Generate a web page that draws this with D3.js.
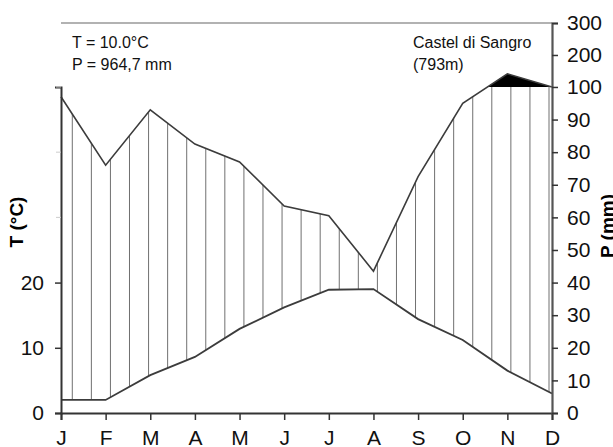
<!DOCTYPE html>
<html>
<head>
<meta charset="utf-8">
<script src="https://cdn.jsdelivr.net/npm/d3@7"></script>
<style>
  html, body { margin: 0; padding: 0; background: #fff; }
  svg { display: block; font-family: "Liberation Sans Narrow", "Arial Narrow", "Liberation Sans", Arial, sans-serif; }
</style>
</head>
<body>
<div id="chart"></div>
<script>
// Climate data - Castel di Sangro
const months = ['J', 'F', 'M', 'A', 'M', 'J', 'J', 'A', 'S', 'O', 'N', 'D'];
const temperature = [2.0, 2.0, 5.8, 8.6, 12.9, 16.2, 18.9, 19.0, 14.4, 11.2, 6.5, 3.0];
const precipitation = [97, 76, 93, 82.5, 77, 63.5, 60.5, 43.5, 72.5, 95, 141, 100];
const tempTicks = [0, 10, 20];
const tempMinorTicks = [30, 40, 50];
const precTicks = [0, 10, 20, 30, 40, 50, 60, 70, 80, 90, 100, 200, 300];
const station = ['Castel di Sangro', '(793m)'];
const summary = ['T = 10.0°C', 'P = 964,7 mm'];

const width = 613;
const height = 447;
const margin = { top: 23, right: 61, bottom: 34, left: 61 };
const innerW = width - margin.left - margin.right;
const innerH = height - margin.top - margin.bottom;

const svg = d3.select('#chart')
  .append('svg')
  .attr('width', width)
  .attr('height', height);

const g = svg.append('g')
  .attr('transform', `translate(${margin.left},${margin.top})`);

// Scales: months on index, T (°C) with 10°C = 20 mm, P compressed above 100 mm
const x = d3.scaleLinear().domain([0, months.length - 1]).range([0, innerW]);
const yP = d3.scaleLinear().domain([0, 100, 300]).range([innerH, innerH * 0.164, 0]);
const yT = d3.scaleLinear().domain([0, 50]).range([yP(0), yP(100)]);

const tLine = d3.line().x((d, i) => x(i)).y(d => yT(d));
const pLine = d3.line().x((d, i) => x(i)).y(d => yP(d));

const defs = svg.append('defs');

// Clip for the humid area: between T and P curves, capped at 100 mm
defs.append('clipPath').attr('id', 'humid')
  .append('path')
  .attr('d', d3.area()
    .x((d, i) => x(i))
    .y0((d, i) => yT(temperature[i]))
    .y1(d => yP(d))(precipitation));

defs.append('clipPath').attr('id', 'below100')
  .append('rect')
  .attr('x', 0).attr('y', yP(100))
  .attr('width', innerW).attr('height', innerH - yP(100));

defs.append('clipPath').attr('id', 'above100')
  .append('rect')
  .attr('x', 0).attr('y', 0)
  .attr('width', innerW).attr('height', yP(100));

// Vertical hatching (month units)
const hatchStep = 0.4272;
const hatchX = d3.range(0.253, months.length - 1, hatchStep);

g.append('g')
  .attr('clip-path', 'url(#below100)')
  .append('g')
  .attr('clip-path', 'url(#humid)')
  .selectAll('line')
  .data(hatchX)
  .enter()
  .append('line')
  .attr('x1', d => x(d))
  .attr('x2', d => x(d))
  .attr('y1', 0)
  .attr('y2', innerH)
  .attr('stroke', '#707070')
  .attr('stroke-width', 1);

// Perhumid area (> 100 mm) filled black
g.append('path')
  .attr('clip-path', 'url(#above100)')
  .attr('d', d3.area()
    .x((d, i) => x(i))
    .y0(yP(100))
    .y1(d => yP(d))(precipitation))
  .attr('fill', '#000');

// Curves
g.append('path')
  .attr('d', pLine(precipitation))
  .attr('fill', 'none')
  .attr('stroke', '#3c3c3c')
  .attr('stroke-width', 1.6);

g.append('path')
  .attr('d', tLine(temperature))
  .attr('fill', 'none')
  .attr('stroke', '#3c3c3c')
  .attr('stroke-width', 1.8);

// Top frame
g.append('line')
  .attr('x1', 0).attr('x2', innerW)
  .attr('y1', 0).attr('y2', 0)
  .attr('stroke', '#666')
  .attr('stroke-width', 1.2);

// Axes
const xAxis = g.append('g')
  .attr('transform', `translate(0,${innerH})`)
  .call(d3.axisBottom(x)
    .tickValues(d3.range(months.length))
    .tickFormat(i => months[i])
    .tickSizeOuter(0)
    .tickSize(7)
    .tickPadding(10));

const leftAxis = g.append('g')
  .call(d3.axisLeft(yT)
    .tickValues(tempTicks)
    .tickSizeOuter(0)
    .tickSize(6)
    .tickPadding(11));

g.append('g')
  .selectAll('line')
  .data(tempMinorTicks)
  .enter()
  .append('line')
  .attr('x1', -5).attr('x2', 0)
  .attr('y1', d => yT(d)).attr('y2', d => yT(d))
  .attr('stroke', '#ccc');

const rightAxis = g.append('g')
  .attr('transform', `translate(${innerW},0)`)
  .call(d3.axisRight(yP)
    .tickValues(precTicks)
    .tickSizeOuter(0)
    .tickSize(6)
    .tickPadding(9));

[xAxis, leftAxis, rightAxis].forEach(ax => {
  ax.select('.domain').attr('stroke', '#333').attr('stroke-width', 2);
  ax.selectAll('.tick line').attr('stroke', '#333').attr('stroke-width', 1.5);
  ax.selectAll('.tick text')
    .attr('fill', '#111')
    .style('font-family', 'inherit')
    .style('font-size', '21px');
});
rightAxis.select('.domain').attr('stroke', '#555').attr('stroke-width', 2.2);

// Axis titles
svg.append('text')
  .attr('transform', `translate(23,${222}) rotate(-90)`)
  .attr('text-anchor', 'middle')
  .style('font-family', 'Liberation Sans, Arial, sans-serif')
  .style('font-weight', 'bold')
  .style('font-size', '19px')
  .text('T (°C)');

svg.append('text')
  .attr('transform', `translate(614,${226}) rotate(-90)`)
  .attr('text-anchor', 'middle')
  .style('font-family', 'Liberation Sans, Arial, sans-serif')
  .style('font-weight', 'bold')
  .style('font-size', '19px')
  .text('P (mm)');

// Annotations
g.selectAll('.summary')
  .data(summary)
  .enter()
  .append('text')
  .attr('class', 'summary')
  .attr('x', 11)
  .attr('y', (d, i) => 25 + i * 22)
  .style('font-size', '16px')
  .attr('fill', '#111')
  .text(d => d);

g.selectAll('.station')
  .data(station)
  .enter()
  .append('text')
  .attr('class', 'station')
  .attr('x', 352)
  .attr('y', (d, i) => 25 + i * 22)
  .style('font-size', '16px')
  .attr('fill', '#111')
  .text(d => d);
</script>
</body>
</html>
